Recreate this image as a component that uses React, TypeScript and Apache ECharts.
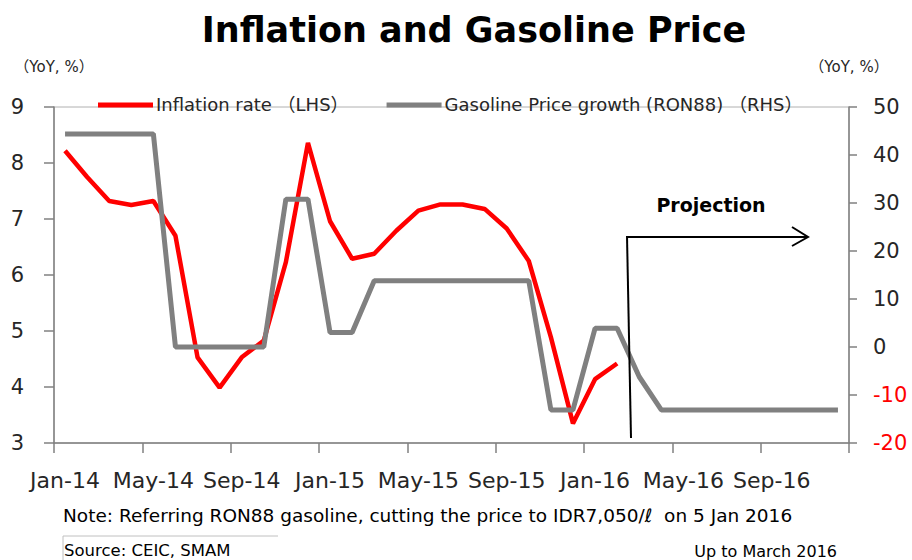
import React, { useEffect, useRef } from "react";
import * as echarts from "echarts";

const categories = [
  "Jan-14", "Feb-14", "Mar-14", "Apr-14", "May-14", "Jun-14", "Jul-14", "Aug-14", "Sep-14", "Oct-14", "Nov-14", "Dec-14",
  "Jan-15", "Feb-15", "Mar-15", "Apr-15", "May-15", "Jun-15", "Jul-15", "Aug-15", "Sep-15", "Oct-15", "Nov-15", "Dec-15",
  "Jan-16", "Feb-16", "Mar-16", "Apr-16", "May-16", "Jun-16", "Jul-16", "Aug-16", "Sep-16", "Oct-16", "Nov-16", "Dec-16",
];

const inflation = [
  8.22, 7.75, 7.32, 7.25, 7.32, 6.7, 4.53, 3.99, 4.53, 4.83, 6.23, 8.36,
  6.96, 6.29, 6.38, 6.79, 7.15, 7.26, 7.26, 7.18, 6.83, 6.25, 4.89, 3.35,
  4.14, 4.42, null, null, null, null, null, null, null, null, null, null,
];

const gasoline = [
  44.4, 44.4, 44.4, 44.4, 44.4, 0, 0, 0, 0, 0, 30.8, 30.8,
  3.0, 3.0, 13.8, 13.8, 13.8, 13.8, 13.8, 13.8, 13.8, 13.8, -13.1, -13.1,
  3.9, 3.9, -6.2, -13.1, -13.1, -13.1, -13.1, -13.1, -13.1, -13.1, -13.1, -13.1,
];

const seriesNames = ["Inflation rate （LHS）", "Gasoline Price growth (RON88) （RHS）"];
const titleText = "Inflation and Gasoline Price";
const axisUnit = "（YoY, %）";
const noteText = "Note: Referring RON88 gasoline, cutting the price to IDR7,050/ℓ  on 5 Jan 2016";
const sourceText = "Source: CEIC, SMAM";
const upToText = "Up to March 2016";
const projectionText = "Projection";

const FONT = "'DejaVu Sans', 'Noto Sans CJK JP', sans-serif";

export default function App() {
  const ref = useRef<HTMLDivElement>(null);
  useEffect(() => {
    if (!ref.current) return;
    const chart = echarts.init(ref.current, undefined, { renderer: "svg" });
    const axisLineStyle = { color: "#808080", width: 1.5 };
    chart.setOption({
      animation: false,
      backgroundColor: "#ffffff",
      textStyle: { fontFamily: FONT },
      title: {
        text: titleText,
        left: 469,
        top: 7,
        textAlign: "center",
        textStyle: { fontFamily: FONT, fontSize: 35, fontWeight: "bold", color: "#000" },
      },
      legend: {
        left: 93,
        top: 91,
        icon: "rect",
        itemWidth: 55,
        itemHeight: 5,
        itemGap: 38,
        data: seriesNames,
        textStyle: { fontFamily: FONT, fontSize: 18, color: "#262626", padding: [0, 0, 0, -2] },
      },
      grid: {
        left: 54,
        right: 63,
        top: 107,
        bottom: 117,
        show: true,
        borderColor: "#b0b0b0",
        borderWidth: 1,
        containLabel: false,
      },
      xAxis: {
        type: "category",
        data: categories,
        boundaryGap: true,
        axisLine: { show: true, onZero: false, lineStyle: axisLineStyle },
        axisTick: { show: true, alignWithLabel: false, inside: false, interval: 3, length: 10, lineStyle: axisLineStyle },
        axisLabel: { interval: 3, margin: 26, fontSize: 22, color: "#262626", fontFamily: FONT },
        splitLine: { show: false },
      },
      yAxis: [
        {
          type: "value",
          min: 3,
          max: 9,
          interval: 1,
          position: "left",
          name: axisUnit,
          nameLocation: "end",
          nameGap: 40,
          nameTextStyle: { fontFamily: FONT, fontSize: 15, color: "#262626", align: "center", verticalAlign: "middle" },
          axisLine: { show: true, lineStyle: axisLineStyle },
          axisTick: { show: true, length: 10, lineStyle: axisLineStyle },
          axisLabel: { margin: 30, fontSize: 21, color: "#262626", fontFamily: FONT },
          splitLine: { show: false },
        },
        {
          type: "value",
          min: -20,
          max: 50,
          interval: 10,
          position: "right",
          name: axisUnit,
          nameLocation: "end",
          nameGap: 40,
          nameTextStyle: { fontFamily: FONT, fontSize: 15, color: "#262626", align: "center", verticalAlign: "middle" },
          axisLine: { show: true, lineStyle: axisLineStyle },
          axisTick: { show: true, length: 8, lineStyle: axisLineStyle },
          axisLabel: {
            margin: 24,
            fontSize: 21,
            fontFamily: FONT,
            color: (v: any) => (Number(v) < 0 ? "#ff0000" : "#262626"),
          },
          splitLine: { show: false },
        },
      ],
      series: [
        {
          name: seriesNames[0],
          type: "line",
          yAxisIndex: 0,
          data: inflation,
          showSymbol: false,
          symbol: "none",
          connectNulls: false,
          lineStyle: { color: "#ff0000", width: 4.5 },
          itemStyle: { color: "#ff0000" },
          z: 2,
        },
        {
          name: seriesNames[1],
          type: "line",
          yAxisIndex: 1,
          data: gasoline,
          showSymbol: false,
          symbol: "none",
          lineStyle: { color: "#808080", width: 5 },
          itemStyle: { color: "#808080" },
          z: 3,
        },
      ],
      graphic: [
        {
          type: "line",
          shape: { x1: 627, y1: 236, x2: 631, y2: 438 },
          style: { stroke: "#000", lineWidth: 2 },
          z: 10,
        },
        {
          type: "line",
          shape: { x1: 627, y1: 237, x2: 807, y2: 237 },
          style: { stroke: "#000", lineWidth: 2 },
          z: 10,
        },
        {
          type: "polyline",
          shape: { points: [[792, 227], [808, 237], [792, 246]] },
          style: { stroke: "#000", lineWidth: 2, fill: "none" },
          z: 10,
        },
        {
          type: "text",
          x: 711,
          y: 205,
          style: {
            text: projectionText,
            fontFamily: FONT,
            fontSize: 19,
            fontWeight: "bold",
            fill: "#000",
            align: "center",
            verticalAlign: "middle",
          },
          z: 10,
        },
        {
          type: "text",
          x: 63,
          y: 515,
          style: {
            text: noteText,
            fontFamily: FONT,
            fontSize: 18.5,
            fill: "#000",
            align: "left",
            verticalAlign: "middle",
          },
        },
        {
          type: "line",
          shape: { x1: 63, y1: 536, x2: 278, y2: 536 },
          style: { stroke: "#c0c0c0", lineWidth: 1 },
        },
        {
          type: "line",
          shape: { x1: 63, y1: 536, x2: 63, y2: 560 },
          style: { stroke: "#c0c0c0", lineWidth: 1 },
        },
        {
          type: "text",
          x: 64,
          y: 550,
          style: {
            text: sourceText,
            fontFamily: FONT,
            fontSize: 16.5,
            fill: "#000",
            align: "left",
            verticalAlign: "middle",
          },
        },
        {
          type: "text",
          x: 837,
          y: 551,
          style: {
            text: upToText,
            fontFamily: FONT,
            fontSize: 16,
            fill: "#000",
            align: "right",
            verticalAlign: "middle",
          },
        },
      ],
    });
    return () => chart.dispose();
  }, []);
  return (
    <div
      ref={ref}
      style={{ position: "absolute", left: 0, top: 0, width: 912, height: 560 }}
    />
  );
}
